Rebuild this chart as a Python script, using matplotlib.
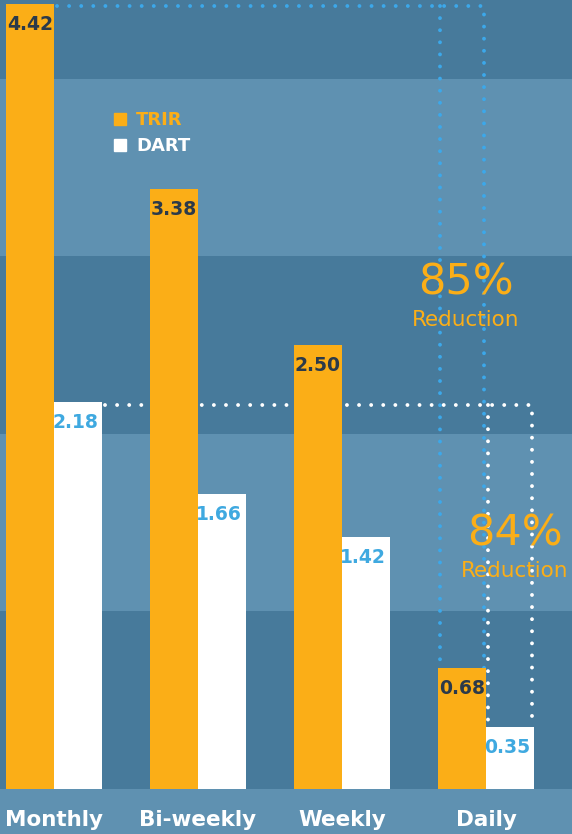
import numpy as np
import matplotlib
matplotlib.use("Agg")
import matplotlib.pyplot as plt
from matplotlib.patches import Patch

# chart data
categories = ["Monthly", "Bi-weekly", "Weekly", "Daily"]
trir = [4.42, 3.38, 2.50, 0.68]
dart = [2.18, 1.66, 1.42, 0.35]
series_names = ["TRIR", "DART"]
reductions = ["85%", "84%"]

# colours
DARK = "#477a9b"
LIGHT = "#5f91b1"
ORANGE = "#fbae17"
WHITE = "#ffffff"
DOT_BLUE = "#3ca8ea"
NAVY = "#2b3a4a"

plt.rcParams["font.family"] = ["DejaVu Sans"]
plt.rcParams["lines.scale_dashes"] = False

fig = plt.figure(figsize=(5.72, 8.34), dpi=100, facecolor=LIGHT)
ax = fig.add_axes([0, 45 / 834, 1, 789 / 834])
ax.set_facecolor(DARK)

x = np.arange(len(categories))
w = 1 / 3

# alternating background bands
for k in range(5):
    ax.axhspan(k, k + 1, color=DARK if k % 2 == 0 else LIGHT, zorder=0, lw=0)

ax.bar(x - w / 2, trir, w, color=ORANGE, zorder=3, label=series_names[0])
ax.bar(x + w / 2, dart, w, color=WHITE, zorder=3, label=series_names[1])

# value labels
for xi, v in zip(x, trir):
    ax.annotate(f"{v:.2f}", (xi - w / 2, v), xytext=(0, -8), textcoords="offset points",
                ha="center", va="top", fontsize=13.5, fontweight="bold", color=NAVY, zorder=4)
for xi, v in zip(x, dart):
    ax.annotate(f"{v:.2f}", (xi + w / 2, v), xytext=(-2, -8), textcoords="offset points",
                ha="center", va="top", fontsize=13.5, fontweight="bold", color="#3fa9e0", zorder=4)

# dotted guide lines
dots = (0, (0.01, 8.7))
inset = 0.014
lw = 2.8
ax.plot([x[0] + 0.02, x[3] - inset, x[3] - inset], [trir[0] - 0.01, trir[0] - 0.01, trir[3]],
        color=DOT_BLUE, lw=lw, ls=dots, dash_capstyle="round", zorder=2)
ax.plot([x[3] - w + inset, x[3] - w + inset], [trir[0] - 0.01, trir[3]],
        color=DOT_BLUE, lw=lw, ls=dots, dash_capstyle="round", zorder=2)
ax.plot([x[0] + w + 0.02, x[3] + w - inset, x[3] + w - inset], [dart[0] - 0.02, dart[0] - 0.02, dart[3]],
        color=WHITE, lw=lw, ls=dots, dash_capstyle="round", zorder=2)
ax.plot([x[3] + inset, x[3] + inset], [dart[0] - 0.02, dart[3]],
        color=WHITE, lw=lw, ls=dots, dash_capstyle="round", zorder=2)

# reduction callouts
ax.text(2.86, 2.85, reductions[0], ha="center", va="center", fontsize=31, color=ORANGE, zorder=5)
ax.text(2.86, 2.64, "Reduction", ha="center", va="center", fontsize=15.5, color=ORANGE, zorder=5)
ax.text(3.20, 1.44, reductions[1], ha="center", va="center", fontsize=31, color=ORANGE, zorder=5)
ax.text(3.20, 1.23, "Reduction", ha="center", va="center", fontsize=15.5, color=ORANGE, zorder=5)

# legend
handles = [Patch(color=ORANGE), Patch(color=WHITE)]
leg = ax.legend(handles, series_names, loc="upper left", bbox_to_anchor=(98 / 572, 1 - 95 / 789),
                frameon=False, handlelength=0.65, handleheight=0.65, handletextpad=0.55,
                labelspacing=0.45, prop={"weight": "bold", "size": 13})
for t, c in zip(leg.get_texts(), [ORANGE, WHITE]):
    t.set_color(c)

ax.set_xlim(-54 / 144, (572 - 54) / 144)
ax.set_ylim(0, 789 / 177.6)
ax.set_xticks(x, categories)
ax.tick_params(axis="x", length=0, pad=15, labelsize=15.5, labelcolor=WHITE)
for t in ax.get_xticklabels():
    t.set_fontweight("bold")
ax.set_yticks([])
for s in ax.spines.values():
    s.set_visible(False)

fig.savefig("out.png", dpi=100, facecolor=LIGHT)
